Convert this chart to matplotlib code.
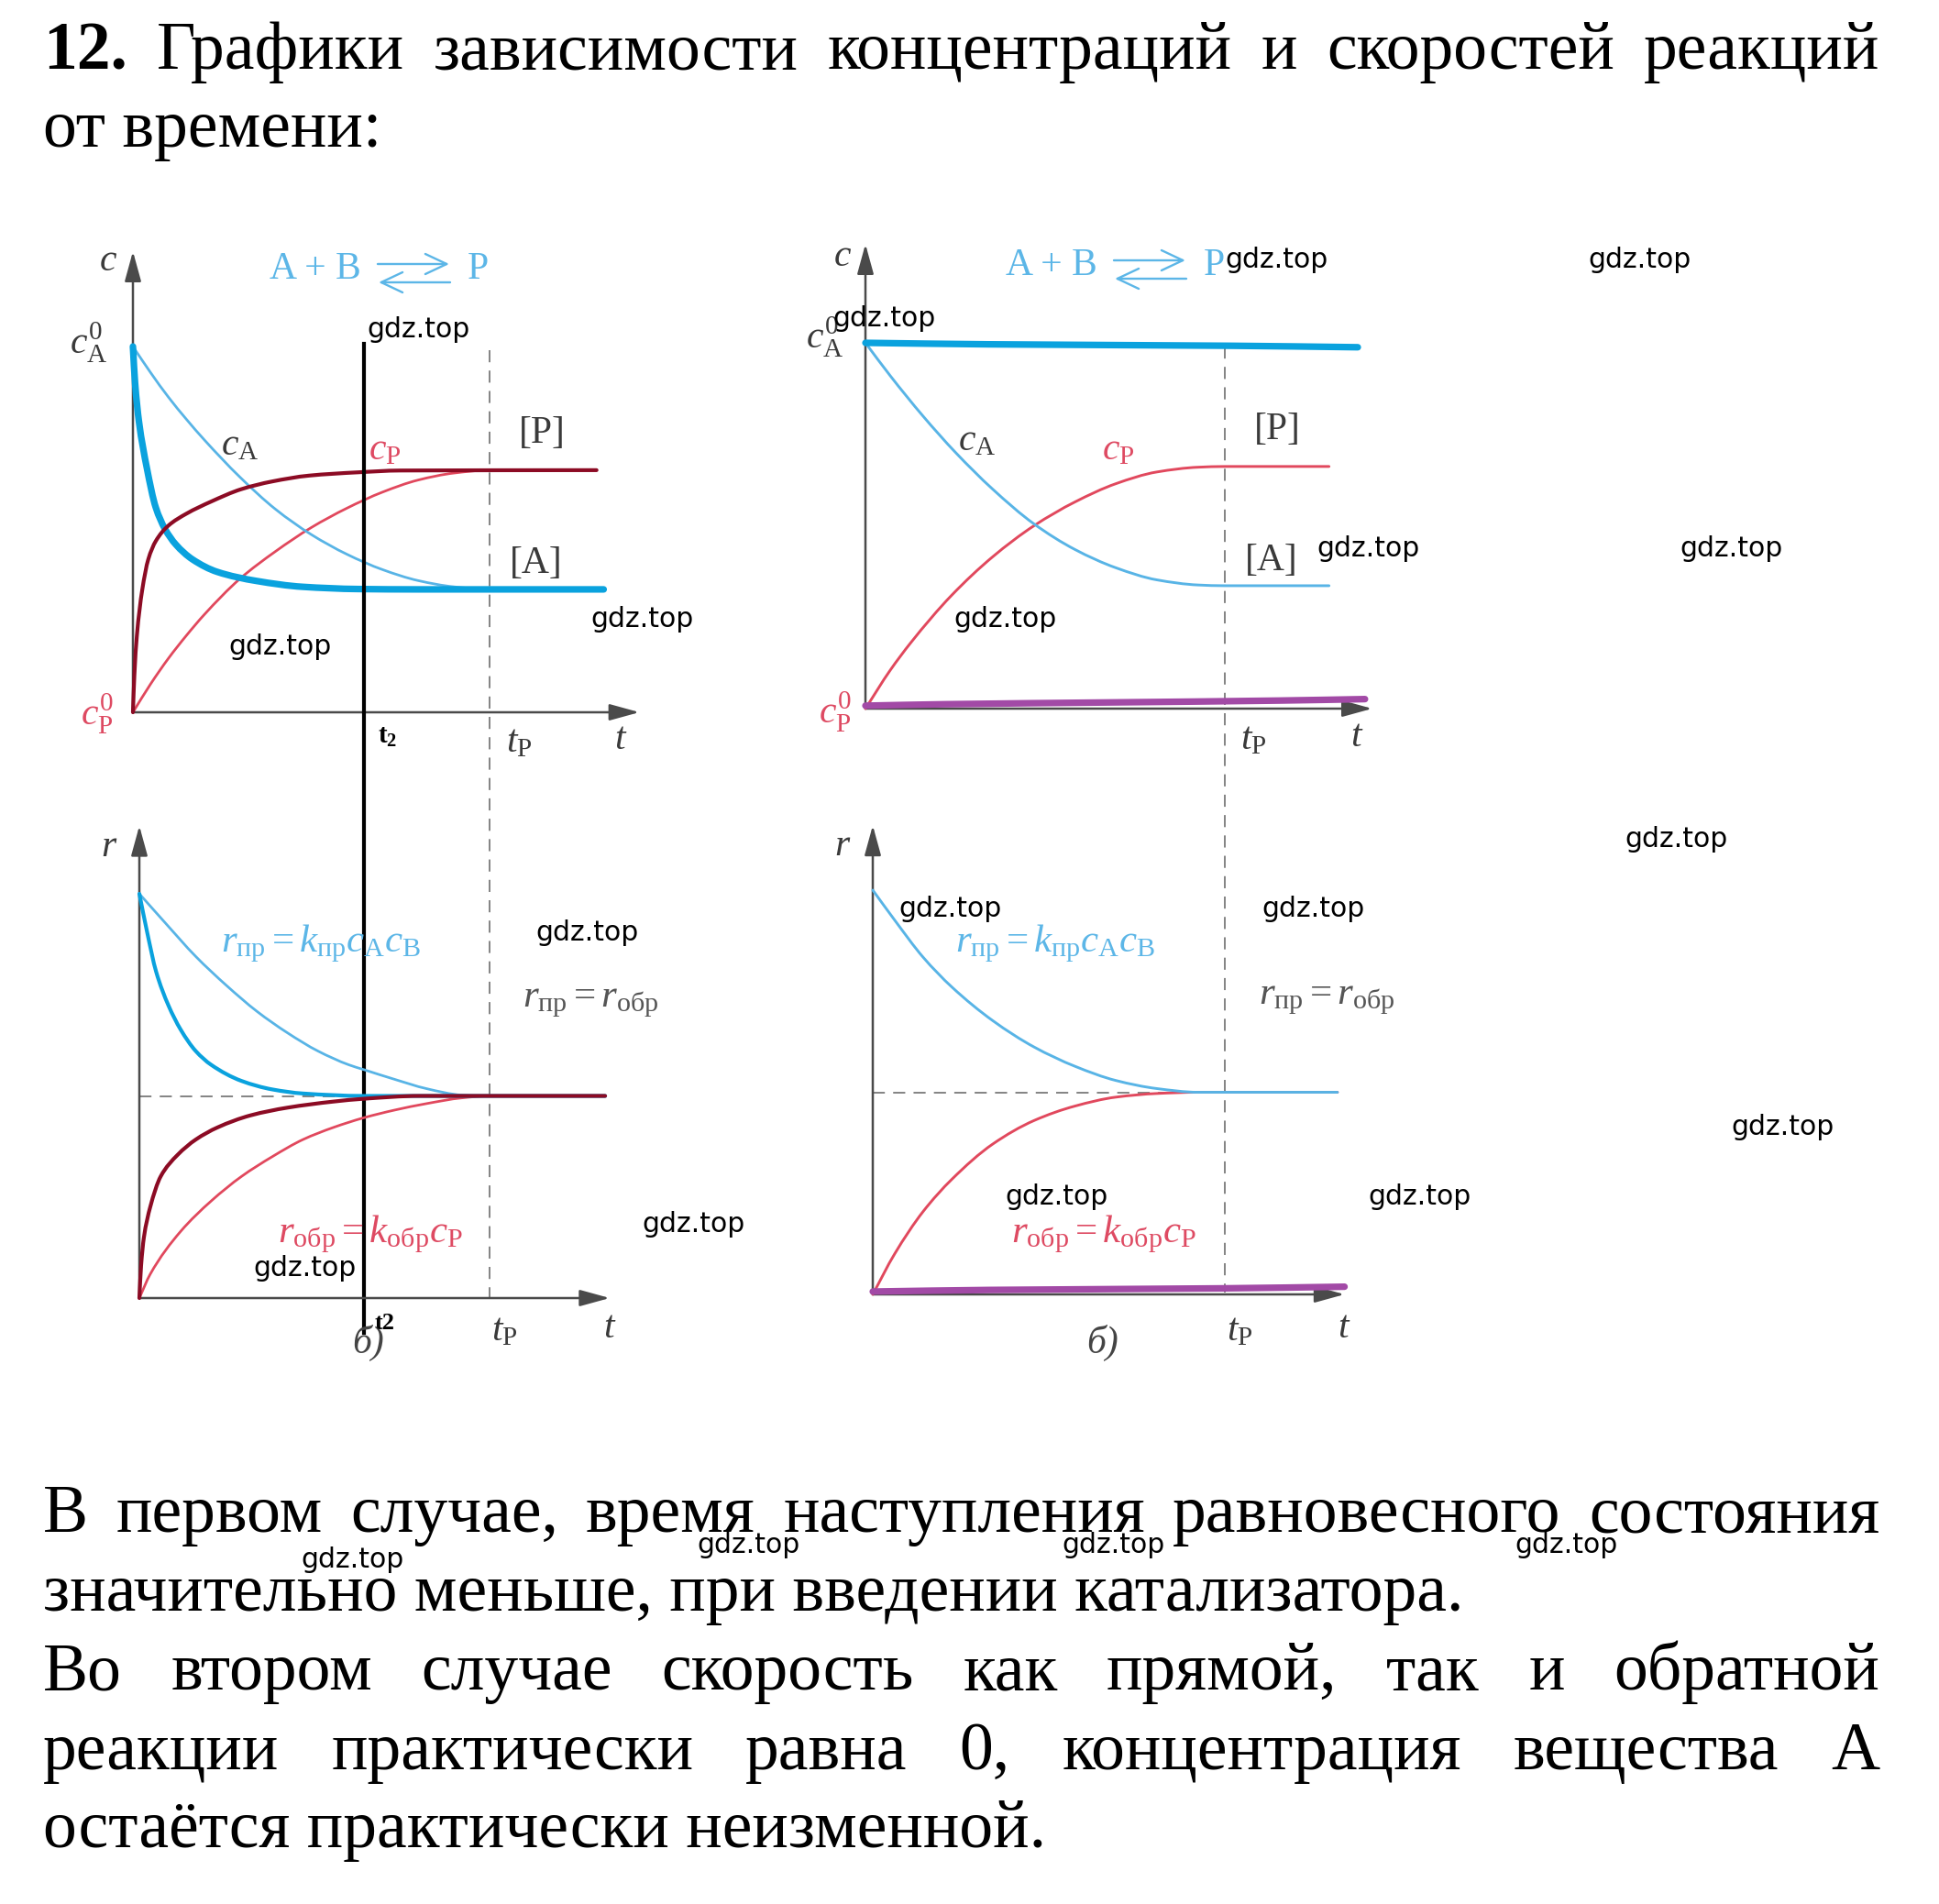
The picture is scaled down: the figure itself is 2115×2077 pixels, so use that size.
import matplotlib
matplotlib.use("Agg")
import matplotlib.pyplot as plt
from matplotlib.transforms import blended_transform_factory
from matplotlib.path import Path
from matplotlib.patches import PathPatch

# ---------------- data ----------------
# top-left panel: concentrations, t in units of t_P, c in units of c_A^0
TL_t_slow_A = [0, 0.05, 0.10, 0.15, 0.20, 0.30, 0.40, 0.50, 0.60, 0.70, 0.80, 0.90, 1.00, 1.30]
TL_cA_slow = [1.0, 0.928, 0.861, 0.801, 0.745, 0.643, 0.555, 0.486, 0.432, 0.39, 0.36, 0.343, 0.336, 0.336]
TL_t_slow_P = [0, 0.05, 0.10, 0.15, 0.20, 0.30, 0.40, 0.50, 0.60, 0.70, 0.80, 0.90, 1.00, 1.30]
TL_cP_slow = [0, 0.078, 0.148, 0.21, 0.267, 0.365, 0.44, 0.505, 0.558, 0.602, 0.635, 0.654, 0.662, 0.662]
TL_t_fast_A = [0, 0.006, 0.017, 0.039, 0.064, 0.090, 0.120, 0.167, 0.236, 0.347, 0.476, 0.630, 0.80, 1.32]
TL_cA_fast = [1.0, 0.90, 0.794, 0.668, 0.56, 0.501, 0.459, 0.418, 0.384, 0.359, 0.343, 0.337, 0.336, 0.336]
TL_t_fast_P = [0, 0.004, 0.011, 0.026, 0.043, 0.064, 0.099, 0.150, 0.219, 0.304, 0.390, 0.493, 0.630, 0.75, 1.30]
TL_cP_fast = [0, 0.10, 0.209, 0.334, 0.418, 0.468, 0.51, 0.543, 0.576, 0.61, 0.631, 0.647, 0.656, 0.661, 0.662]
T2 = 0.648

# bottom-left panel: rates, r in units of initial forward rate
EQ = 0.5
BL_t_slow_f = [0, 0.074, 0.161, 0.249, 0.336, 0.423, 0.510, 0.598, 0.641, 0.729, 0.82, 0.92, 0.97, 1.33]
BL_rf_slow = [1.0, 0.928, 0.845, 0.773, 0.709, 0.656, 0.611, 0.577, 0.565, 0.541, 0.518, 0.502, 0.50, 0.50]
BL_t_slow_b = [0, 0.031, 0.118, 0.205, 0.292, 0.380, 0.467, 0.554, 0.641, 0.729, 0.82, 0.92, 1.0, 1.33]
BL_rb_slow = [0, 0.059, 0.165, 0.24, 0.301, 0.35, 0.392, 0.422, 0.446, 0.465, 0.481, 0.495, 0.50, 0.50]
BL_t_fast_f = [0, 0.022, 0.048, 0.083, 0.118, 0.161, 0.205, 0.292, 0.380, 0.467, 0.641, 1.33]
BL_rf_fast = [1.0, 0.906, 0.807, 0.724, 0.664, 0.611, 0.577, 0.537, 0.516, 0.506, 0.50, 0.50]
BL_t_fast_b = [0, 0.005, 0.013, 0.031, 0.061, 0.109, 0.161, 0.223, 0.318, 0.423, 0.554, 0.641, 0.80, 1.33]
BL_rb_fast = [0, 0.08, 0.15, 0.225, 0.301, 0.354, 0.392, 0.422, 0.452, 0.471, 0.486, 0.493, 0.50, 0.50]

# top-right panel: concentrations with inhibitor
TR_t_A = [0, 0.069, 0.160, 0.251, 0.354, 0.469, 0.583, 0.697, 0.811, 0.926, 1.0, 1.29]
TR_cA = [1.0, 0.91, 0.80, 0.70, 0.60, 0.505, 0.435, 0.385, 0.352, 0.338, 0.336, 0.336]
TR_t_P = [0, 0.069, 0.126, 0.240, 0.354, 0.469, 0.583, 0.697, 0.811, 0.926, 1.0, 1.29]
TR_cP = [0, 0.105, 0.18, 0.31, 0.415, 0.50, 0.565, 0.615, 0.647, 0.66, 0.662, 0.662]
TR_t_flatA = [0, 0.34, 1.02, 1.37]
TR_c_flatA = [1.0, 0.996, 0.992, 0.988]
TR_t_flatP = [0, 0.22, 0.69, 1.15, 1.39]
TR_c_flatP = [0.008, 0.012, 0.017, 0.022, 0.026]

# bottom-right panel: rates with inhibitor
BR_t = [0, 0.062, 0.143, 0.225, 0.341, 0.458, 0.575, 0.691, 0.808, 0.924, 1.0, 1.32]
BR_rf = [1.0, 0.926, 0.834, 0.76, 0.677, 0.612, 0.564, 0.529, 0.509, 0.50, 0.50, 0.50]
BR_rb = [0, 0.10, 0.205, 0.285, 0.372, 0.43, 0.466, 0.488, 0.497, 0.50, 0.50, 0.50]
BR_t_flat = [0, 0.33, 1.0, 1.34]
BR_r_flat = [0.007, 0.011, 0.015, 0.019]

TITLE1 = ["12.", "Графики", "зависимости", "концентраций", "и", "скоростей", "реакций"]
TITLE2 = "от времени:"
BODY = [
    ("В первом случае, время наступления равновесного состояния", True),
    ("значительно меньше, при введении катализатора.", False),
    ("Во втором случае скорость как прямой, так и обратной", True),
    ("реакции практически равна 0, концентрация вещества А", True),
    ("остаётся практически неизменной.", False),
]
WATERMARK = "gdz.top"
WM_POS = [(457, 359), (701, 675), (305, 705), (1393, 283), (1789, 283), (965, 347),
          (1493, 599), (1889, 599), (1097, 675), (1829, 915), (641, 1018), (1037, 991),
          (1433, 991), (1945, 1230), (757, 1336), (333, 1384), (1153, 1306), (1549, 1306),
          (385, 1702), (817, 1686), (1214, 1686), (1709, 1686)]

# ---------------- style ----------------
plt.rcParams["mathtext.fontset"] = "custom"
plt.rcParams["mathtext.rm"] = "Liberation Serif"
plt.rcParams["mathtext.it"] = "Liberation Serif:italic"
plt.rcParams["mathtext.bf"] = "Liberation Serif:bold"
plt.rcParams["lines.scale_dashes"] = False

BLUE_THIN = "#58b4e6"
BLUE_THICK = "#0aa2de"
RED_THIN = "#e1485d"
RED_DARK = "#8c0b24"
PURPLE = "#a24aa6"
AXC = "#4a4a4a"
DASHC = "#6e6e6e"
LAB = "#3a3a3a"
LAB_RED = "#de4a62"
EQ_BLUE = "#5cb6e7"
SERIF = "Liberation Serif"

W, H = 2115, 2077
fig = plt.figure(figsize=(W / 100, H / 100), dpi=100)
fig.patch.set_facecolor("white")


def panel(ox, oy, ux, uy, xmax=1.5, ymax=1.32):
    ax = fig.add_axes([ox / W, 1 - oy / H, xmax * ux / W, ymax * uy / H])
    ax.set_xlim(0, xmax)
    ax.set_ylim(0, ymax)
    ax.axis("off")
    return ax


def axes_arrows(ax, xtip, ytip):
    ap = dict(arrowstyle="-|>,head_length=0.8,head_width=0.22", color=AXC, lw=1.8,
              shrinkA=0, shrinkB=0, mutation_scale=25)
    ax.annotate("", xy=(0, ytip), xytext=(0, 0), arrowprops=ap, annotation_clip=False)
    ax.annotate("", xy=(xtip, 0), xytext=(0, 0), arrowprops=ap, annotation_clip=False)


def ftxt(x, y, s, size=30, color=LAB, **kw):
    kw.setdefault("ha", "center")
    kw.setdefault("va", "center")
    kw.setdefault("family", SERIF)
    return fig.text(x / W, 1 - y / H, s, fontsize=size, color=color, **kw)


def _slopes(x, y):
    n = len(x)
    h = [x[i + 1] - x[i] for i in range(n - 1)]
    d = [(y[i + 1] - y[i]) / h[i] for i in range(n - 1)]
    m = [0.0] * n
    for k in range(1, n - 1):
        if d[k - 1] * d[k] <= 0:
            m[k] = 0.0
        else:
            w1 = 2 * h[k] + h[k - 1]
            w2 = h[k] + 2 * h[k - 1]
            m[k] = (w1 + w2) / (w1 / d[k - 1] + w2 / d[k])
    m[0] = d[0]
    m[-1] = d[-1]
    return h, m


def line(ax, x, y, color, lw, z=3):
    """Draw the read points joined by a smooth monotone cubic path."""
    h, m = _slopes(x, y)
    verts = [(x[0], y[0])]
    codes = [Path.MOVETO]
    for i in range(len(x) - 1):
        verts += [(x[i] + h[i] / 3, y[i] + m[i] * h[i] / 3),
                  (x[i + 1] - h[i] / 3, y[i + 1] - m[i + 1] * h[i] / 3),
                  (x[i + 1], y[i + 1])]
        codes += [Path.CURVE4] * 3
    patch = PathPatch(Path(verts, codes), facecolor="none", edgecolor=color, lw=lw,
                      capstyle="round", joinstyle="round", zorder=z, clip_on=False)
    ax.add_patch(patch)


def vdash(ax, x, y0px, y1px):
    tr = blended_transform_factory(ax.transData, fig.transFigure)
    ax.plot([x, x], [1 - y0px / H, 1 - y1px / H], transform=tr, color=DASHC, lw=1.2,
            dashes=(9.5, 6.5), clip_on=False, zorder=2)


def reaction(dx, dy):
    ftxt(344 + dx, 304 + dy, "A + B", size=30, color=EQ_BLUE, va="baseline")
    ftxt(521 + dx, 304 + dy, "P", size=30, color=EQ_BLUE, va="baseline")
    ap = dict(arrowstyle="->,head_length=0.7,head_width=0.33", color=EQ_BLUE, lw=1.7,
              shrinkA=0, shrinkB=0, mutation_scale=24)
    fig.add_artist(matplotlib.text.Annotation(
        "", xy=((490 + dx) / W, 1 - (288 + dy) / H), xytext=((412 + dx) / W, 1 - (288 + dy) / H),
        xycoords="figure fraction", textcoords="figure fraction", arrowprops=ap))
    fig.add_artist(matplotlib.text.Annotation(
        "", xy=((413 + dx) / W, 1 - (308 + dy) / H), xytext=((491 + dx) / W, 1 - (308 + dy) / H),
        xycoords="figure fraction", textcoords="figure fraction", arrowprops=ap))


# ---------------- top-left ----------------
ax_tl = panel(145, 777, 389, 399)
axes_arrows(ax_tl, 1.42, 1.26)
line(ax_tl, TL_t_slow_P, TL_cP_slow, RED_THIN, 2.0, 3)
line(ax_tl, TL_t_slow_A, TL_cA_slow, BLUE_THIN, 2.0, 3)
line(ax_tl, TL_t_fast_A, TL_cA_fast, BLUE_THICK, 5.2, 4)
line(ax_tl, TL_t_fast_P, TL_cP_fast, RED_DARK, 3.0, 5)
vdash(ax_tl, 1.0, 382, 1416)
tr_tl = blended_transform_factory(ax_tl.transData, fig.transFigure)
ax_tl.plot([T2, T2], [1 - 375 / H, 1 - 1454 / H], transform=tr_tl, color="black", lw=3.0,
           clip_on=False, zorder=8)
reaction(0, 0)

# ---------------- bottom-left ----------------
ax_bl = panel(152, 1416, 382, 441)
axes_arrows(ax_bl, 1.343, 1.168)
ax_bl.plot([0, 1.0], [EQ, EQ], color=DASHC, lw=1.2, dashes=(9.5, 6.5), zorder=2)
line(ax_bl, BL_t_slow_b, BL_rb_slow, RED_THIN, 2.0, 3)
line(ax_bl, BL_t_slow_f, BL_rf_slow, BLUE_THIN, 2.0, 3)
line(ax_bl, BL_t_fast_f, BL_rf_fast, BLUE_THICK, 3.0, 4)
line(ax_bl, BL_t_fast_b, BL_rb_fast, RED_DARK, 3.0, 5)

# ---------------- top-right ----------------
ax_tr = panel(944, 773, 392, 399)
axes_arrows(ax_tr, 1.41, 1.27)
line(ax_tr, TR_t_P, TR_cP, RED_THIN, 2.1, 3)
line(ax_tr, TR_t_A, TR_cA, BLUE_THIN, 2.1, 3)
line(ax_tr, TR_t_flatA, TR_c_flatA, BLUE_THICK, 5.2, 4)
line(ax_tr, TR_t_flatP, TR_c_flatP, PURPLE, 5.2, 4)
vdash(ax_tr, 1.0, 378, 1410)
reaction(803, -4)

# ---------------- bottom-right ----------------
ax_br = panel(952, 1412, 384, 441)
axes_arrows(ax_br, 1.34, 1.16)
ax_br.plot([0, 1.0], [EQ, EQ], color=DASHC, lw=1.2, dashes=(9.5, 6.5), zorder=2)
line(ax_br, BR_t, BR_rb, RED_THIN, 2.1, 3)
line(ax_br, BR_t, BR_rf, BLUE_THIN, 2.1, 3)
line(ax_br, BR_t_flat, BR_r_flat, PURPLE, 5.2, 4)

# ---------------- labels ----------------
for dx, dy in [(0, 0), (801, -5)]:
    ftxt(118 + dx, 285 + dy, r"$c$")
ftxt(97, 374, r"$c_{\mathrm{A}}^{0}$")
ftxt(900, 368, r"$c_{\mathrm{A}}^{0}$")
ftxt(106, 779, r"$c_{\mathrm{P}}^{0}$", color=LAB_RED)
ftxt(911, 777, r"$c_{\mathrm{P}}^{0}$", color=LAB_RED)
ftxt(262, 486, r"$c_{\mathrm{A}}$")
ftxt(420, 491, r"$c_{\mathrm{P}}$", color=LAB_RED)
ftxt(1066, 481, r"$c_{\mathrm{A}}$")
ftxt(1220, 491, r"$c_{\mathrm{P}}$", color=LAB_RED)
ftxt(591, 473, "[P]")
ftxt(585, 615, "[A]")
ftxt(1393, 469, "[P]")
ftxt(1387, 612, "[A]")
ftxt(423, 804, r"$\mathbf{t}_{\mathbf{2}}$", size=21, color="black")
ftxt(566, 810, r"$t_{\mathrm{P}}$")
ftxt(677, 807, r"$t$")
ftxt(1367, 807, r"$t_{\mathrm{P}}$")
ftxt(1480, 804, r"$t$")

ftxt(119, 924, r"$r$")
ftxt(919, 923, r"$r$")
eq_f = r"$r_{\mathrm{пр}} = k_{\mathrm{пр}}c_{\mathrm{A}}c_{\mathrm{B}}$"
eq_b = r"$r_{\mathrm{обр}} = k_{\mathrm{обр}}c_{\mathrm{P}}$"
eq_e = r"$r_{\mathrm{пр}} = r_{\mathrm{обр}}$"
ftxt(350, 1029, eq_f, size=31, color=EQ_BLUE)
ftxt(1151, 1029, eq_f, size=31, color=EQ_BLUE)
ftxt(644, 1093, eq_e, size=31, color="#555555")
ftxt(1447, 1090, eq_e, size=31, color="#555555")
ftxt(404, 1346, eq_b, size=31, color=LAB_RED)
ftxt(1204, 1346, eq_b, size=31, color=LAB_RED)
ftxt(402, 1465, "б)", size=30, color="#444444", style="italic")
ftxt(1203, 1465, "б)", size=30, color="#444444", style="italic")
ftxt(420, 1444, "t2", size=19, color="black", weight="bold", zorder=9)
ftxt(550, 1452, r"$t_{\mathrm{P}}$")
ftxt(665, 1449, r"$t$")
ftxt(1352, 1452, r"$t_{\mathrm{P}}$")
ftxt(1466, 1449, r"$t$")

# ---------------- paragraph text ----------------
renderer = fig.canvas.get_renderer()
TS = 53
X0, X1 = 47, 2050


def justified(words, yb, bold_first=False):
    arts = []
    for i, w in enumerate(words):
        arts.append(fig.text(0, 1 - yb / H, w, fontsize=TS, family=SERIF, color="black",
                             weight="bold" if (bold_first and i == 0) else "normal",
                             ha="left", va="baseline"))
    widths = [a.get_window_extent(renderer).width for a in arts]
    gap = (X1 - X0 - sum(widths)) / (len(words) - 1)
    x = X0
    for a, w in zip(arts, widths):
        a.set_x(x / W)
        x += w + gap


justified(TITLE1, 75, bold_first=True)
fig.text(X0 / W, 1 - 160 / H, TITLE2, fontsize=TS, family=SERIF, ha="left", va="baseline")
for (s, just), yb in zip(BODY, [1671, 1757, 1843, 1930, 2015]):
    if just:
        justified(s.split(), yb)
    else:
        fig.text(X0 / W, 1 - yb / H, s, fontsize=TS, family=SERIF, ha="left", va="baseline")

# ---------------- watermarks ----------------
for x, y in WM_POS:
    ftxt(x, y, WATERMARK, size=21.5, color="black", family="DejaVu Sans", zorder=20)

fig.savefig("out.png", dpi=100, facecolor="white")
